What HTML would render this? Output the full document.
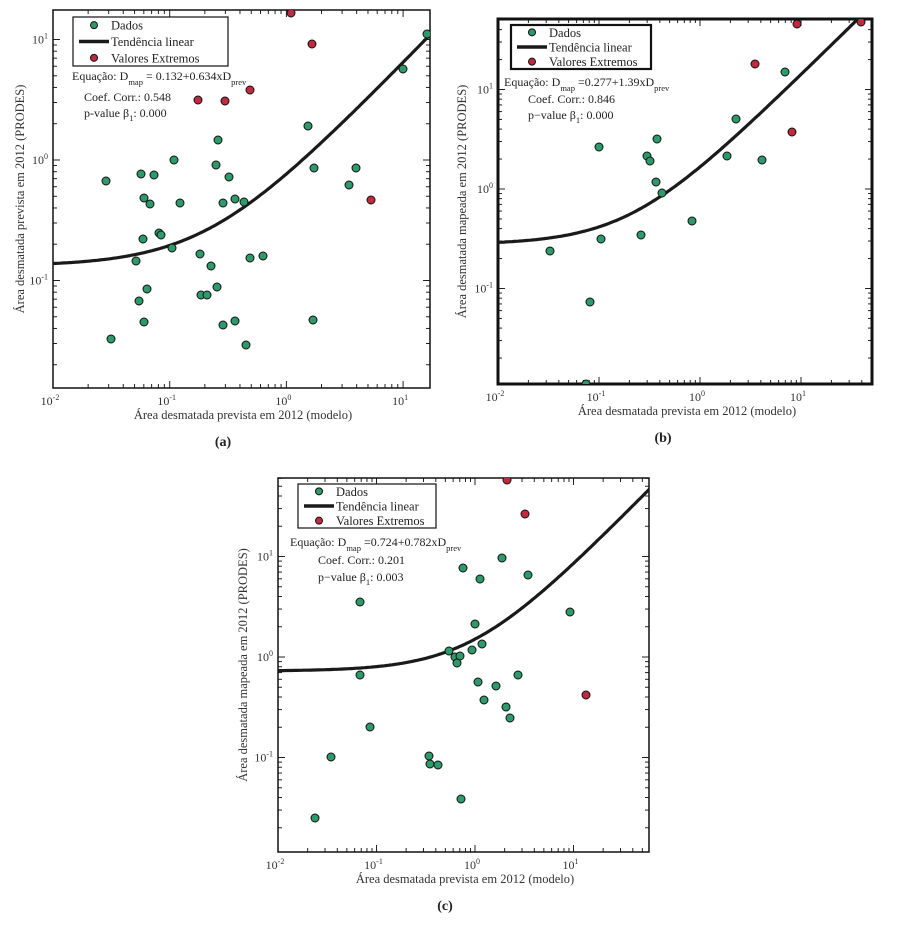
<!DOCTYPE html>
<html><head><meta charset="utf-8">
<style>
html,body{margin:0;padding:0;background:#fff;}
svg{display:block;font-family:"Liberation Serif",serif;}
</style></head>
<body>
<svg id="s" width="905" height="928" viewBox="0 0 905 928" xmlns="http://www.w3.org/2000/svg"></svg>
<script>
var S=document.getElementById('s');var out='';
function add(t){out+=t;}
function chart(c){
 var X=function(x){return c.x0+c.dx*(Math.log10(x)+2);};
 var Y=function(y){return c.y0-c.dy*Math.log10(y);};
 add('<clipPath id="cp'+c.id+'"><rect x="'+c.L+'" y="'+c.T+'" width="'+(c.R-c.L)+'" height="'+(c.B-c.T)+'"/></clipPath>');
 // ticks
 for(var e=-3;e<=2;e++){for(var m=1;m<10;m++){var v=m*Math.pow(10,e);
  var px=X(v);var len=m==1?7:4;
  if(px>=c.L&&px<=c.R){add('<line x1="'+px+'" y1="'+c.B+'" x2="'+px+'" y2="'+(c.B-len)+'" stroke="#222" stroke-width="1"/>');add('<line x1="'+px+'" y1="'+c.T+'" x2="'+px+'" y2="'+(c.T+len)+'" stroke="#222" stroke-width="1"/>');}
  var py=Y(v);
  if(py>=c.T&&py<=c.B){add('<line x1="'+c.L+'" y1="'+py+'" x2="'+(c.L+len)+'" y2="'+py+'" stroke="#222" stroke-width="1"/>');add('<line x1="'+c.R+'" y1="'+py+'" x2="'+(c.R-len)+'" y2="'+py+'" stroke="#222" stroke-width="1"/>');}
 }}
 add('<rect x="'+c.L+'" y="'+c.T+'" width="'+(c.R-c.L)+'" height="'+(c.B-c.T)+'" fill="none" stroke="#111" stroke-width="'+c.bw+'"/>');
 // tick labels
 [-2,-1,0,1].forEach(function(e){var px=X(Math.pow(10,e));
  add('<text x="'+(px-3)+'" y="'+(c.B+17)+'" font-size="12" fill="#333" text-anchor="middle">10<tspan font-size="8" dy="-5">'+e+'</tspan></text>');});
 [-1,0,1].forEach(function(e){var py=Y(Math.pow(10,e));if(py<c.T||py>c.B)return;
  add('<text x="'+(c.L-5)+'" y="'+(py+4)+'" font-size="12" fill="#333" text-anchor="end">10<tspan font-size="8" dy="-5">'+e+'</tspan></text>');});
 // titles
 add('<text x="'+c.xtx+'" y="'+(c.B+31)+'" font-size="12.5" fill="#333" text-anchor="middle">Área desmatada prevista em 2012 (modelo)</text>');
 add('<text transform="translate('+c.ytx+','+((c.T+c.B)/2)+') rotate(-90)" font-size="12.5" fill="#333" text-anchor="middle">'+c.ytitle+'</text>');
 add('<text x="'+c.labx+'" y="'+(c.B+58)+'" font-size="14" font-weight="bold" fill="#222" text-anchor="middle">'+c.lab+'</text>');
 // curve
 var pts=[];for(var l=-2;l<=2;l+=0.02){var x=Math.pow(10,l);var y=c.a+c.b*x;pts.push(X(x).toFixed(1)+','+Y(y).toFixed(1));}
 add('<g clip-path="url(#cp'+c.id+')"><polyline points="'+pts.join(' ')+'" fill="none" stroke="#1a1a1a" stroke-width="3.2"/>');
 c.g.forEach(function(p){add('<circle cx="'+p[0]+'" cy="'+p[1]+'" r="4" fill="#2e9a6c" stroke="#111" stroke-width="1"/>');});
 c.r.forEach(function(p){add('<circle cx="'+p[0]+'" cy="'+p[1]+'" r="4" fill="#bf2a40" stroke="#111" stroke-width="1"/>');});
 add('</g>');
 // legend
 var lg=c.lg;
 add('<rect x="'+lg[0]+'" y="'+lg[1]+'" width="'+(lg[2]-lg[0])+'" height="'+(lg[3]-lg[1])+'" fill="#fff" stroke="#111" stroke-width="'+c.lbw+'"/>');
 var h=(lg[3]-lg[1])/3;var lx=lg[0];
 add('<circle cx="'+(lx+21)+'" cy="'+(lg[1]+h*0.5)+'" r="3.5" fill="#2e9a6c" stroke="#111" stroke-width="1"/>');
 add('<line x1="'+(lx+6)+'" y1="'+(lg[1]+h*1.5)+'" x2="'+(lx+36)+'" y2="'+(lg[1]+h*1.5)+'" stroke="#1a1a1a" stroke-width="3.5"/>');
 add('<circle cx="'+(lx+21)+'" cy="'+(lg[1]+h*2.5)+'" r="3.5" fill="#bf2a40" stroke="#111" stroke-width="1"/>');
 ['Dados','Tendência linear','Valores Extremos'].forEach(function(t,i){add('<text x="'+(lx+38)+'" y="'+(lg[1]+h*(i+0.5)+4.5)+'" font-size="12.5" fill="#222">'+t+'</text>');});
 var eq=c.eq;
 add('<text x="'+eq[0]+'" y="'+eq[1]+'" font-size="12" fill="#222">'+eq[2]+'</text>');
 add('<text x="'+eq[3]+'" y="'+eq[4]+'" font-size="12" fill="#222">'+eq[5]+'</text>');
 add('<text x="'+eq[3]+'" y="'+eq[6]+'" font-size="12" fill="#222">'+eq[7]+'</text>');
}
chart({id:'a',L:53,R:430,T:10,B:388,x0:53,dx:116.7,y0:160,dy:120.5,bw:1.5,a:0.132,b:0.634,
 xtx:243,ytx:24,ytitle:'Área desmatada prevista em 2012 (PRODES)',lab:'(a)',labx:223,
 lg:[73,17,228,66],lbw:1.2,
 eq:[72,80,'Equação: D<tspan font-size="8.5" dy="5">map</tspan><tspan dy="-5"> = 0.132+0.634xD</tspan><tspan font-size="8.5" dy="5">prev</tspan>',84,101,'Coef. Corr.: 0.548',117,'p-value β<tspan font-size="8.5" dy="4">1</tspan><tspan dy="-4">: 0.000</tspan>'],
 g:[[427,34],[403,69],[308,126],[218,140],[174,160],[216,165],[229,177],[314,168],[356,168],[349,185],[106,181],[141,174],[154,175],[144,198],[150,204],[180,203],[223,203],[235,199],[244,202],[159,233],[161,235],[143,239],[172,248],[136,261],[200,254],[250,258],[263,256],[211,266],[147,289],[217,287],[139,301],[201,295],[207,295],[144,322],[223,325],[235,321],[313,320],[111,339],[246,345]],
 r:[[291,13],[312,44],[250,90],[198,100],[225,101],[371,200]]});
chart({id:'b',L:498,R:872,T:19,B:384,x0:498,dx:101,y0:189,dy:99.5,bw:3,a:0.277,b:1.39,
 xtx:687,ytx:466,ytitle:'Área desmatada mapeada em 2012 (PRODES)',lab:'(b)',labx:663,
 lg:[511,25,651,69],lbw:2.2,
 eq:[504,86,'Equação:  D<tspan font-size="8.5" dy="5">map</tspan><tspan dy="-5">   =0.277+1.39xD</tspan><tspan font-size="8.5" dy="5">prev</tspan>',528,103,'Coef. Corr.: 0.846',119,'p−value β<tspan font-size="8.5" dy="4">1</tspan><tspan dy="-4">:  0.000</tspan>'],
 g:[[785,72],[736,119],[657,139],[599,147],[647,156],[650,161],[727,156],[762,160],[656,182],[662,193],[692,221],[641,235],[601,239],[550,251],[590,302],[586,384]],
 r:[[797,24],[861,22],[755,64],[792,132]]});
chart({id:'c',L:278,R:649,T:478,B:852,x0:278,dx:98.5,y0:657,dy:100.5,bw:1.5,a:0.724,b:0.782,
 xtx:465,ytx:247,ytitle:'Área desmatada mapeada em 2012 (PRODES)',lab:'(c)',labx:445,
 lg:[298,484,436,528],lbw:1.2,
 eq:[290,546,'Equação:  D<tspan font-size="8.5" dy="5">map</tspan><tspan dy="-5">   =0.724+0.782xD</tspan><tspan font-size="8.5" dy="5">prev</tspan>',318,564,'Coef. Corr.:  0.201',581,'p−value β<tspan font-size="8.5" dy="4">1</tspan><tspan dy="-4">:  0.003</tspan>'],
 g:[[502,558],[463,568],[480,579],[528,575],[360,602],[570,612],[475,624],[482,644],[472,650],[449,651],[455,657],[460,656],[457,663],[360,675],[518,675],[478,682],[496,686],[484,700],[506,707],[510,718],[370,727],[331,757],[429,756],[430,764],[438,765],[461,799],[315,818]],
 r:[[507,480],[525,514],[586,695]]});
S.innerHTML=out;
</script>
</body></html>
